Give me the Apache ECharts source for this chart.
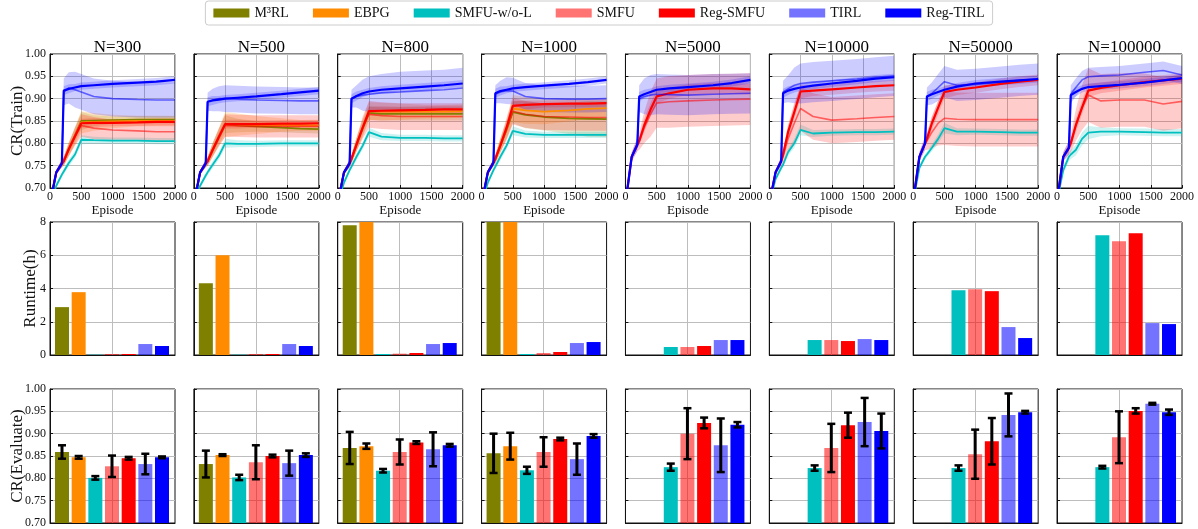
<!DOCTYPE html>
<html>
<head>
<meta charset="utf-8">
<script src="https://cdn.jsdelivr.net/npm/echarts@6/dist/echarts.min.js"></script>
<style>
  html, body { margin: 0; padding: 0; background: #fff; }
  #chart { width: 1198px; height: 529px; }
</style>
</head>
<body>
<div id="chart"></div>
<script>
// ---- data ----
const panelTitles = ["N=300", "N=500", "N=800", "N=1000", "N=5000", "N=10000", "N=50000", "N=100000"];
const methods = ["M³RL", "EBPG", "SMFU-w/o-L", "SMFU", "Reg-SMFU", "TIRL", "Reg-TIRL"];
const episodes = [0, 100, 190, 220, 300, 400, 500, 700, 1000, 1400, 1700, 2000];

// CR(Train) mean curves, one row per panel (null = method not run)
const m3rlTrain = [
  [0.665, 0.735, 0.755, 0.760, 0.787, 0.818, 0.850, 0.851, 0.852, 0.853, 0.853, 0.853],
  [0.665, 0.735, 0.755, 0.760, 0.785, 0.815, 0.843, 0.840, 0.838, 0.835, 0.833, 0.832],
  [0.665, 0.735, 0.755, 0.765, 0.797, 0.835, 0.868, 0.866, 0.866, 0.866, 0.866, 0.866],
  [0.665, 0.735, 0.757, 0.765, 0.795, 0.830, 0.870, 0.864, 0.859, 0.856, 0.855, 0.854],
  null, null, null, null
];
const ebpgTrain = [
  [0.665, 0.735, 0.755, 0.760, 0.786, 0.816, 0.847, 0.848, 0.849, 0.850, 0.850, 0.850],
  [0.665, 0.735, 0.755, 0.760, 0.785, 0.814, 0.842, 0.842, 0.841, 0.841, 0.840, 0.840],
  [0.665, 0.735, 0.755, 0.765, 0.797, 0.835, 0.872, 0.871, 0.871, 0.871, 0.871, 0.872],
  [0.665, 0.735, 0.757, 0.765, 0.795, 0.832, 0.878, 0.874, 0.871, 0.874, 0.877, 0.879],
  null, null, null, null
];
const smfuWolTrain = [
  [0.660, 0.705, 0.730, 0.737, 0.756, 0.775, 0.808, 0.807, 0.806, 0.806, 0.805, 0.805],
  [0.660, 0.705, 0.728, 0.735, 0.752, 0.772, 0.800, 0.799, 0.799, 0.800, 0.800, 0.800],
  [0.665, 0.712, 0.740, 0.748, 0.770, 0.795, 0.825, 0.815, 0.812, 0.812, 0.811, 0.811],
  [0.665, 0.712, 0.740, 0.748, 0.770, 0.795, 0.828, 0.821, 0.819, 0.819, 0.819, 0.819],
  null,
  [0.665, 0.720, 0.745, 0.752, 0.780, 0.800, 0.830, 0.822, 0.824, 0.825, 0.825, 0.826],
  [0.670, 0.745, 0.770, 0.775, 0.790, 0.810, 0.834, 0.826, 0.826, 0.825, 0.824, 0.824],
  [0.670, 0.740, 0.770, 0.775, 0.785, 0.810, 0.824, 0.826, 0.826, 0.825, 0.824, 0.824]
];
const smfuTrain = [
  [0.665, 0.735, 0.755, 0.760, 0.786, 0.815, 0.840, 0.834, 0.830, 0.828, 0.826, 0.826],
  [0.665, 0.735, 0.755, 0.760, 0.785, 0.813, 0.840, 0.839, 0.838, 0.838, 0.838, 0.838],
  [0.665, 0.735, 0.755, 0.765, 0.797, 0.835, 0.865, 0.862, 0.860, 0.860, 0.860, 0.860],
  [0.665, 0.735, 0.757, 0.765, 0.795, 0.832, 0.872, 0.865, 0.860, 0.859, 0.858, 0.858],
  [0.665, 0.770, 0.797, 0.805, 0.835, 0.865, 0.890, 0.893, 0.895, 0.897, 0.898, 0.899],
  [0.665, 0.735, 0.760, 0.770, 0.810, 0.845, 0.878, 0.860, 0.852, 0.855, 0.858, 0.860],
  [0.670, 0.770, 0.800, 0.805, 0.825, 0.845, 0.856, 0.854, 0.853, 0.853, 0.853, 0.853],
  [0.670, 0.770, 0.790, 0.800, 0.840, 0.880, 0.908, 0.895, 0.897, 0.897, 0.888, 0.894]
];
const regSmfuTrain = [
  [0.665, 0.735, 0.755, 0.760, 0.787, 0.816, 0.845, 0.846, 0.846, 0.847, 0.848, 0.848],
  [0.665, 0.735, 0.755, 0.760, 0.785, 0.814, 0.843, 0.843, 0.843, 0.844, 0.844, 0.845],
  [0.665, 0.735, 0.755, 0.765, 0.797, 0.835, 0.872, 0.873, 0.874, 0.875, 0.876, 0.876],
  [0.665, 0.735, 0.757, 0.765, 0.795, 0.835, 0.884, 0.886, 0.888, 0.889, 0.889, 0.890],
  [0.665, 0.770, 0.797, 0.805, 0.840, 0.875, 0.905, 0.912, 0.920, 0.923, 0.923, 0.921],
  [0.665, 0.735, 0.760, 0.775, 0.825, 0.870, 0.916, 0.918, 0.921, 0.925, 0.928, 0.930],
  [0.670, 0.770, 0.800, 0.810, 0.845, 0.880, 0.915, 0.920, 0.925, 0.933, 0.938, 0.942],
  [0.670, 0.770, 0.790, 0.800, 0.840, 0.880, 0.918, 0.924, 0.930, 0.937, 0.941, 0.945]
];
const tirlTrain = [
  [0.665, 0.735, 0.755, 0.915, 0.924, 0.920, 0.915, 0.905, 0.900, 0.898, 0.897, 0.897],
  [0.665, 0.735, 0.755, 0.893, 0.897, 0.900, 0.900, 0.899, 0.897, 0.896, 0.895, 0.895],
  [0.665, 0.735, 0.755, 0.900, 0.905, 0.908, 0.910, 0.913, 0.915, 0.918, 0.920, 0.924],
  [0.665, 0.735, 0.757, 0.910, 0.915, 0.918, 0.917, 0.905, 0.900, 0.899, 0.899, 0.900],
  [0.665, 0.770, 0.797, 0.900, 0.905, 0.908, 0.910, 0.909, 0.908, 0.910, 0.911, 0.912],
  [0.665, 0.735, 0.760, 0.915, 0.922, 0.930, 0.934, 0.937, 0.940, 0.944, 0.948, 0.951],
  [0.670, 0.770, 0.800, 0.905, 0.912, 0.925, 0.938, 0.930, 0.932, 0.937, 0.941, 0.944],
  [0.670, 0.770, 0.790, 0.910, 0.925, 0.942, 0.949, 0.951, 0.953, 0.959, 0.963, 0.953]
];
const regTirlTrain = [
  [0.665, 0.735, 0.755, 0.918, 0.922, 0.925, 0.928, 0.930, 0.933, 0.936, 0.938, 0.942],
  [0.665, 0.735, 0.755, 0.893, 0.896, 0.898, 0.900, 0.902, 0.905, 0.910, 0.914, 0.918],
  [0.665, 0.735, 0.755, 0.900, 0.906, 0.912, 0.916, 0.920, 0.923, 0.927, 0.930, 0.934],
  [0.665, 0.735, 0.757, 0.912, 0.917, 0.920, 0.923, 0.926, 0.929, 0.933, 0.937, 0.942],
  [0.665, 0.770, 0.797, 0.905, 0.910, 0.915, 0.920, 0.923, 0.926, 0.930, 0.935, 0.942],
  [0.665, 0.735, 0.760, 0.912, 0.918, 0.922, 0.925, 0.929, 0.934, 0.940, 0.945, 0.948],
  [0.670, 0.770, 0.800, 0.905, 0.910, 0.915, 0.920, 0.927, 0.934, 0.938, 0.941, 0.944],
  [0.670, 0.770, 0.790, 0.908, 0.915, 0.922, 0.926, 0.928, 0.931, 0.936, 0.941, 0.946]
];

// half width of the shaded std band around each curve
const m3rlSpread = [
  [0, 0.005, 0.008, 0.010, 0.015, 0.018, 0.020, 0.012, 0.008, 0.008, 0.008, 0.008],
  [0, 0.005, 0.008, 0.010, 0.015, 0.018, 0.020, 0.015, 0.012, 0.010, 0.010, 0.010],
  [0, 0.005, 0.008, 0.010, 0.015, 0.018, 0.015, 0.015, 0.015, 0.015, 0.015, 0.015],
  [0, 0.005, 0.008, 0.010, 0.015, 0.020, 0.025, 0.030, 0.030, 0.035, 0.040, 0.040],
  null, null, null, null
];
const ebpgSpread = [
  [0, 0.005, 0.008, 0.010, 0.015, 0.020, 0.025, 0.020, 0.015, 0.012, 0.012, 0.012],
  [0, 0.005, 0.008, 0.010, 0.015, 0.020, 0.028, 0.025, 0.020, 0.015, 0.012, 0.012],
  [0, 0.005, 0.008, 0.010, 0.015, 0.020, 0.020, 0.020, 0.018, 0.015, 0.015, 0.015],
  [0, 0.005, 0.008, 0.010, 0.015, 0.020, 0.030, 0.030, 0.028, 0.025, 0.022, 0.020],
  null, null, null, null
];
const smfuWolSpread = [
  [0, 0.005, 0.006, 0.006, 0.008, 0.008, 0.010, 0.008, 0.007, 0.007, 0.007, 0.007],
  [0, 0.005, 0.006, 0.006, 0.008, 0.008, 0.010, 0.008, 0.007, 0.007, 0.007, 0.007],
  [0, 0.005, 0.006, 0.006, 0.008, 0.008, 0.010, 0.008, 0.007, 0.007, 0.007, 0.007],
  [0, 0.005, 0.006, 0.006, 0.008, 0.008, 0.010, 0.008, 0.007, 0.007, 0.007, 0.007],
  null,
  [0, 0.005, 0.006, 0.006, 0.008, 0.010, 0.012, 0.008, 0.007, 0.007, 0.007, 0.007],
  [0, 0.005, 0.006, 0.006, 0.008, 0.010, 0.012, 0.008, 0.007, 0.007, 0.007, 0.007],
  [0, 0.008, 0.010, 0.010, 0.012, 0.015, 0.015, 0.010, 0.008, 0.008, 0.008, 0.008]
];
const smfuSpread = [
  [0, 0.005, 0.008, 0.010, 0.015, 0.020, 0.025, 0.025, 0.022, 0.020, 0.020, 0.020],
  [0, 0.005, 0.008, 0.010, 0.015, 0.020, 0.025, 0.025, 0.025, 0.025, 0.025, 0.025],
  [0, 0.005, 0.008, 0.010, 0.015, 0.025, 0.030, 0.030, 0.030, 0.030, 0.030, 0.030],
  [0, 0.005, 0.008, 0.010, 0.015, 0.025, 0.030, 0.030, 0.030, 0.030, 0.030, 0.030],
  [0, 0.010, 0.015, 0.020, 0.035, 0.050, 0.055, 0.058, 0.058, 0.058, 0.058, 0.058],
  [0, 0.005, 0.010, 0.015, 0.030, 0.045, 0.050, 0.052, 0.052, 0.052, 0.052, 0.052],
  [0, 0.010, 0.015, 0.020, 0.035, 0.050, 0.060, 0.060, 0.060, 0.060, 0.060, 0.060],
  [0, 0.010, 0.015, 0.020, 0.035, 0.050, 0.060, 0.060, 0.060, 0.060, 0.060, 0.060]
];
const regSmfuSpread = [
  [0, 0.005, 0.006, 0.006, 0.008, 0.010, 0.010, 0.010, 0.008, 0.008, 0.008, 0.008],
  [0, 0.005, 0.006, 0.006, 0.008, 0.010, 0.010, 0.010, 0.008, 0.008, 0.008, 0.008],
  [0, 0.005, 0.006, 0.006, 0.008, 0.010, 0.010, 0.010, 0.008, 0.008, 0.008, 0.008],
  [0, 0.005, 0.006, 0.006, 0.008, 0.010, 0.010, 0.010, 0.008, 0.008, 0.008, 0.008],
  [0, 0.005, 0.008, 0.010, 0.015, 0.015, 0.015, 0.012, 0.012, 0.012, 0.012, 0.012],
  [0, 0.005, 0.008, 0.010, 0.015, 0.015, 0.015, 0.012, 0.012, 0.012, 0.012, 0.012],
  [0, 0.005, 0.008, 0.010, 0.015, 0.015, 0.015, 0.012, 0.012, 0.012, 0.012, 0.012],
  [0, 0.005, 0.008, 0.010, 0.015, 0.015, 0.015, 0.012, 0.012, 0.012, 0.012, 0.012]
];
const tirlSpread = [
  [0, 0.005, 0.008, 0.030, 0.035, 0.040, 0.040, 0.040, 0.040, 0.040, 0.040, 0.040],
  [0, 0.005, 0.008, 0.020, 0.025, 0.028, 0.030, 0.030, 0.030, 0.030, 0.030, 0.030],
  [0, 0.005, 0.008, 0.020, 0.025, 0.035, 0.040, 0.042, 0.045, 0.045, 0.045, 0.045],
  [0, 0.005, 0.008, 0.020, 0.025, 0.030, 0.030, 0.030, 0.030, 0.030, 0.030, 0.030],
  [0, 0.010, 0.015, 0.030, 0.040, 0.045, 0.045, 0.045, 0.045, 0.045, 0.045, 0.045],
  [0, 0.005, 0.010, 0.025, 0.030, 0.040, 0.045, 0.045, 0.045, 0.045, 0.045, 0.045],
  [0, 0.010, 0.015, 0.020, 0.025, 0.030, 0.035, 0.035, 0.035, 0.035, 0.035, 0.035],
  [0, 0.010, 0.015, 0.020, 0.020, 0.020, 0.020, 0.020, 0.020, 0.020, 0.020, 0.020]
];
const regTirlSpread = [
  [0, 0.005, 0.008, 0.010, 0.010, 0.008, 0.008, 0.008, 0.008, 0.008, 0.008, 0.008],
  [0, 0.005, 0.008, 0.010, 0.010, 0.008, 0.008, 0.008, 0.008, 0.008, 0.008, 0.008],
  [0, 0.005, 0.008, 0.010, 0.010, 0.008, 0.008, 0.008, 0.008, 0.008, 0.008, 0.008],
  [0, 0.005, 0.008, 0.010, 0.010, 0.008, 0.008, 0.008, 0.008, 0.008, 0.008, 0.008],
  [0, 0.005, 0.008, 0.010, 0.010, 0.008, 0.008, 0.008, 0.008, 0.008, 0.008, 0.008],
  [0, 0.005, 0.008, 0.010, 0.010, 0.008, 0.008, 0.008, 0.008, 0.008, 0.008, 0.008],
  [0, 0.005, 0.008, 0.010, 0.010, 0.008, 0.008, 0.008, 0.008, 0.008, 0.008, 0.008],
  [0, 0.005, 0.008, 0.010, 0.010, 0.008, 0.008, 0.008, 0.008, 0.008, 0.008, 0.008]
];

// Runtime(h), one row per panel, methods in legend order
const runtimeHours = [
  [2.88, 3.78, 0.02, 0.06, 0.06, 0.66, 0.54],
  [4.32, 6.00, 0.02, 0.06, 0.06, 0.66, 0.54],
  [7.80, 8.02, 0.06, 0.08, 0.12, 0.66, 0.72],
  [10.5, 12.0, 0.06, 0.12, 0.18, 0.72, 0.78],
  [null, null, 0.48, 0.48, 0.54, 0.90, 0.90],
  [null, null, 0.90, 0.90, 0.84, 0.96, 0.90],
  [null, null, 3.90, 3.96, 3.84, 1.68, 1.02],
  [null, null, 7.20, 6.84, 7.32, 1.92, 1.86]
];

// CR(Evaluate) mean and error-bar half length
const evalMean = [
  [0.859, 0.847, 0.801, 0.827, 0.845, 0.832, 0.847],
  [0.832, 0.852, 0.802, 0.836, 0.850, 0.834, 0.852],
  [0.868, 0.872, 0.817, 0.859, 0.880, 0.865, 0.874],
  [0.856, 0.872, 0.818, 0.859, 0.888, 0.843, 0.895],
  [null, null, 0.825, 0.900, 0.924, 0.874, 0.920],
  [null, null, 0.823, 0.868, 0.919, 0.926, 0.906],
  [null, null, 0.823, 0.854, 0.883, 0.942, 0.948],
  [null, null, 0.825, 0.892, 0.951, 0.967, 0.948]
];
const evalErr = [
  [0.015, 0.003, 0.004, 0.024, 0.003, 0.023, 0.002],
  [0.030, 0.002, 0.006, 0.038, 0.003, 0.028, 0.004],
  [0.036, 0.006, 0.004, 0.028, 0.003, 0.038, 0.003],
  [0.044, 0.030, 0.008, 0.033, 0.003, 0.035, 0.004],
  [null, null, 0.008, 0.057, 0.012, 0.060, 0.006],
  [null, null, 0.006, 0.054, 0.028, 0.054, 0.039],
  [null, null, 0.006, 0.055, 0.052, 0.048, 0.003],
  [null, null, 0.003, 0.058, 0.006, 0.002, 0.006]
];

// ---- styling / layout ----
const FONT = "Liberation Serif";
const colors = ["#808000", "#FF8C00", "#00BFBF", "rgba(255,0,0,0.55)", "#FF0000", "rgba(0,0,255,0.55)", "#0000FF"];
const bandColors = ["rgba(128,128,0,0.2)", "rgba(255,140,0,0.22)", "rgba(0,191,191,0.2)", "rgba(255,0,0,0.2)",
                    "rgba(255,0,0,0.18)", "rgba(0,0,255,0.2)", "rgba(0,0,255,0.18)"];
const lineWidths = [1.8, 1.8, 1.8, 1.6, 2.2, 1.6, 2.2];
const trainMean = [m3rlTrain, ebpgTrain, smfuWolTrain, smfuTrain, regSmfuTrain, tirlTrain, regTirlTrain];
const trainSpread = [m3rlSpread, ebpgSpread, smfuWolSpread, smfuSpread, regSmfuSpread, tirlSpread, regTirlSpread];

const panelLeft = 50, panelStep = 143.86, panelWidth = 125;
const rowTop = [54, 222, 389], rowHeight = [134, 133, 134];
const rowNames = ["CR(Train)", "Runtime(h)", "CR(Evaluate)"];
const rowNameGap = [24, 11, 24];
const gridColor = "#bdbdbd";
const inkColor = "#111";

const chart = echarts.init(document.getElementById("chart"));

const grids = [], xAxes = [], yAxes = [], series = [], titles = [];

for (let r = 0; r < 3; r++) {
  for (let p = 0; p < 8; p++) {
    const g = r * 8 + p;
    grids.push({
      left: panelLeft + p * panelStep, top: rowTop[r], width: panelWidth, height: rowHeight[r],
      show: true, borderColor: inkColor, borderWidth: 1, containLabel: false, outerBoundsMode: "none"
    });
    if (r === 0) {
      xAxes.push({
        gridIndex: g, type: "value", min: 0, max: 2000, interval: 500,
        name: "Episode", nameLocation: "middle", nameGap: 16, nameMoveOverlap: false,
        nameTextStyle: { fontFamily: FONT, fontSize: 13, color: inkColor },
        axisLine: { show: true, onZero: false, lineStyle: { color: inkColor } },
        axisTick: { show: true, inside: true, length: 3, lineStyle: { color: inkColor } },
        axisLabel: { fontFamily: FONT, fontSize: 12, color: inkColor, margin: 3, formatter: v => String(v) },
        splitLine: { show: true, lineStyle: { color: gridColor, width: 1 } }
      });
    } else {
      xAxes.push({
        gridIndex: g, type: "value", min: -0.72, max: 6.78,
        axisLine: { show: true, onZero: false, lineStyle: { color: inkColor } },
        axisTick: { show: false }, axisLabel: { show: false }, splitLine: { show: false }
      });
    }
    const yBase = r === 1 ? { min: 0, max: 8, interval: 2 } : { min: 0.7, max: 1.0, interval: 0.05 };
    yAxes.push(Object.assign({
      gridIndex: g, type: "value",
      name: p === 0 ? rowNames[r] : "", nameLocation: "middle", nameGap: rowNameGap[r], nameMoveOverlap: false,
      nameTextStyle: { fontFamily: FONT, fontSize: 17, color: inkColor },
      axisLine: { show: true, onZero: false, lineStyle: { color: inkColor } },
      axisTick: { show: true, inside: true, length: 3, lineStyle: { color: inkColor } },
      axisLabel: {
        show: p === 0, fontFamily: FONT, fontSize: 12, color: inkColor, margin: 4,
        formatter: v => (r === 1 ? String(Math.round(v)) : v.toFixed(2))
      },
      splitLine: { show: true, lineStyle: { color: gridColor, width: 1 } }
    }, yBase));
  }
}

// titles above the top row
panelTitles.forEach((t, p) => {
  titles.push({
    text: t, left: panelLeft + p * panelStep + panelWidth / 2, top: 34, textAlign: "center",
    textStyle: { fontFamily: FONT, fontSize: 17, fontWeight: "normal", color: "#000" }
  });
});

// std band as one clipped polygon, positioned through the axes
function bandSeries(g, points, fill) {
  return {
    type: "custom", xAxisIndex: g, yAxisIndex: g, silent: true, z: 1, clip: true,
    encode: { x: 0, y: [1, 2] }, data: points,
    renderItem(params, api) {
      if (params.dataIndex !== 0) return null;
      const upper = points.map(d => api.coord([d[0], d[2]]));
      const lower = points.map(d => api.coord([d[0], d[1]])).reverse();
      const cs = params.coordSys;
      return {
        type: "polygon", shape: { points: upper.concat(lower) }, style: { fill: fill },
        clipPath: { type: "rect", shape: { x: cs.x, y: cs.y, width: cs.width, height: cs.height } }
      };
    }
  };
}

// row 1: training curves with std bands
for (let p = 0; p < 8; p++) {
  for (let m = 0; m < methods.length; m++) {
    const mean = trainMean[m][p];
    if (!mean) continue;
    const spread = trainSpread[m][p];
    const pts = episodes.map((e, k) => [e, mean[k] - spread[k], mean[k] + spread[k]]);
    series.push(bandSeries(p, pts, bandColors[m]));
  }
  for (let m = 0; m < methods.length; m++) {
    const mean = trainMean[m][p];
    if (!mean) continue;
    series.push({
      type: "line", name: methods[m], xAxisIndex: p, yAxisIndex: p, z: 3,
      symbol: "none", color: colors[m],
      lineStyle: { color: colors[m], width: lineWidths[m] },
      itemStyle: { color: colors[m] },
      data: episodes.map((e, k) => [e, mean[k]])
    });
  }
}

const centerGridLine = {
  silent: true, symbol: "none", z: 1, label: { show: false },
  lineStyle: { color: gridColor, type: "solid", width: 1 },
  data: [{ xAxis: 3 }]
};

function barData(values) {
  const out = [];
  values.forEach((v, i) => {
    if (v !== null) out.push({ value: [i, v], itemStyle: { color: colors[i] } });
  });
  return out;
}

// row 2: runtime bars
for (let p = 0; p < 8; p++) {
  const g = 8 + p;
  series.push({
    type: "bar", xAxisIndex: g, yAxisIndex: g, barWidth: 14, clip: true, z: 2,
    data: barData(runtimeHours[p]), markLine: centerGridLine
  });
}

function renderErrorBar(params, api) {
  const x = api.value(0);
  const top = api.coord([x, api.value(2)]);
  const bottom = api.coord([x, api.value(1)]);
  const half = 4;
  const stem = { stroke: "#000", lineWidth: 3 };
  const cap = { stroke: "#000", lineWidth: 2.5 };
  return {
    type: "group",
    children: [
      { type: "line", shape: { x1: top[0], y1: top[1], x2: bottom[0], y2: bottom[1] }, style: stem },
      { type: "line", shape: { x1: top[0] - half, y1: top[1], x2: top[0] + half, y2: top[1] }, style: cap },
      { type: "line", shape: { x1: bottom[0] - half, y1: bottom[1], x2: bottom[0] + half, y2: bottom[1] }, style: cap }
    ]
  };
}

// row 3: evaluation bars with error bars
for (let p = 0; p < 8; p++) {
  const g = 16 + p;
  series.push({
    type: "bar", xAxisIndex: g, yAxisIndex: g, barWidth: 14, clip: true, z: 2,
    data: barData(evalMean[p]), markLine: centerGridLine
  });
  const errData = [];
  evalMean[p].forEach((v, i) => {
    if (v !== null) errData.push([i, v - evalErr[p][i], v + evalErr[p][i]]);
  });
  series.push({
    type: "custom", xAxisIndex: g, yAxisIndex: g, z: 5, silent: true,
    renderItem: renderErrorBar, encode: { x: 0, y: [1, 2] }, data: errData
  });
}

chart.setOption({
  animation: false,
  backgroundColor: "#fff",
  title: titles,
  legend: {
    data: methods, top: 1, left: "center", selectedMode: false,
    icon: "rect", itemWidth: 36, itemHeight: 9, itemGap: 24,
    padding: [5, 8, 5, 8], borderColor: "#cccccc", borderWidth: 1, borderRadius: 3,
    textStyle: { fontFamily: FONT, fontSize: 14, color: inkColor }
  },
  grid: grids,
  xAxis: xAxes,
  yAxis: yAxes,
  series: series
});
</script>
</body>
</html>
